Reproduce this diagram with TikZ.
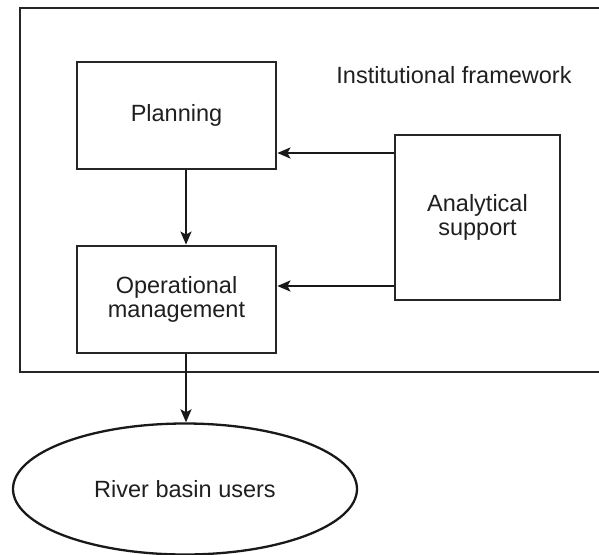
\documentclass[tikz,border=0pt]{standalone}
\usepackage{fontspec}
\setmainfont{Liberation Sans}
\usetikzlibrary{arrows.meta,shapes.geometric}
\begin{document}
\begin{tikzpicture}[x=1pt,y=-1pt,
  every node/.style={font=\fontsize{23.5}{24.5}\selectfont, text=black!88},
  box/.style={draw=black!85, line width=2.8pt, rectangle, inner sep=0pt, align=center},
  conn/.style={draw=black!90, line width=2.3pt, -{Stealth[length=13pt,width=11pt,inset=3pt]}}]
\useasboundingbox (0,0) rectangle (599,554);
\draw[black!85, line width=2.8pt] (606,8) -- (20,8) -- (20,372) -- (606,372);
\node[box, minimum width=199pt, minimum height=107pt] (plan) at (176.5,115.5) {Planning};
\node[box, minimum width=199pt, minimum height=107pt] (oper) at (176.5,299.5) {Operational\\management};
\node[box, minimum width=165pt, minimum height=165pt] (anal) at (477.5,217.5) {Analytical\\support};
\node[draw=black!90, line width=2.3pt, ellipse, minimum width=344pt, minimum height=131pt, inner sep=0pt] (users) at (185,489) {River basin users};
\node[anchor=base] (inst) at (454,83) {Institutional framework};
\draw[conn] (plan.south -| 186,0) -- (oper.north -| 186,0);
\draw[conn] (oper.south -| 186,0) -- (users.north -| 186,0);
\draw[conn] (anal.west |- 0,153) -- (plan.east |- 0,153);
\draw[conn] (anal.west |- 0,286) -- (oper.east |- 0,286);
\end{tikzpicture}
\end{document}
